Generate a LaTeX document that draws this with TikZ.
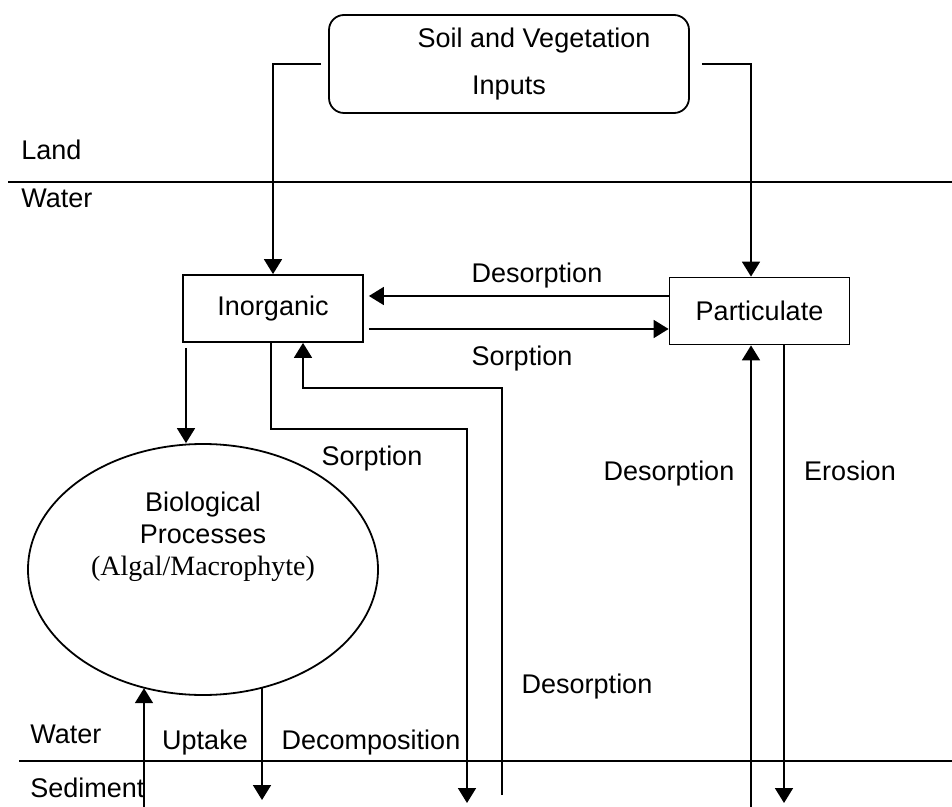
\documentclass[tikz,border=0pt]{standalone}
\usepackage{fontspec}
\setmainfont{Liberation Sans}
\newfontfamily\algalfont{Liberation Serif}
\usetikzlibrary{arrows.meta,shapes.geometric}

\begin{document}
\begin{tikzpicture}[
    x=0.5pt, y=-0.5pt,
    font=\fontsize{13.5}{16}\selectfont,
    source/.style={
        rectangle,
        rounded corners=7.5pt,
        draw,
        line width=0.9pt,
        minimum width=180pt,
        minimum height=49pt,
        align=center
    },
    pool/.style={
        rectangle,
        draw,
        line width=0.9pt,
        minimum width=90pt,
        minimum height=33.5pt
    },
    process/.style={
        ellipse,
        draw,
        line width=0.9pt,
        minimum width=175pt,
        minimum height=125.5pt,
        align=center
    },
    flow/.style={
        -{Triangle[width=9pt,length=7.5pt]},
        line width=0.9pt
    },
    flowtext/.style={anchor=base, inner sep=0pt},
    zone/.style={anchor=base west, inner sep=0pt},
    layer/.style={line width=0.9pt}
]
\useasboundingbox (0,0) rectangle (952,807);

% Boundaries
\draw[layer] (8,182) -- (952,182);
\draw[layer] (19,761) -- (952,761);

% Zone names
\node[zone] (land) at (21,160) {Land};
\node[zone] (waterup) at (21,208) {Water};
\node[zone] (waterlow) at (30,743) {Water};
\node[zone] (sediment) at (30,797) {Sediment};

% Pools
\node[source] (soil) at (509,64) {\hspace*{25pt}Soil and Vegetation\\[7.5pt]Inputs};
\node[pool] (inorg) at (273,308.5) {Inorganic};
\node[pool] (partic) at (759.5,311) {Particulate};
\node[process] (bio) at (203,569.5) {Biological\\Processes\\{\algalfont\fontsize{14}{16}\selectfont (Algal/Macrophyte)}\\[15pt]\strut};

% Inputs from land
\draw[flow] ([xshift=-3.5pt]soil.west) -| (inorg.north);
\draw[flow] ([xshift=6pt]soil.east) -| ([xshift=-4.25pt]partic.north);

% Exchange between pools
\draw[flow] ([yshift=7.5pt]partic.west) -- ([xshift=2.5pt,yshift=6.25pt]inorg.east);
\draw[flow] ([xshift=2.5pt,yshift=-10.25pt]inorg.east) -- ([yshift=-9pt]partic.west);
\node[flowtext] (desorp1) at (537,283) {Desorption};
\node[flowtext] (sorp1) at (522,365) {Sorption};

% Inorganic and biological
\draw[flow] ([xshift=-43.5pt,yshift=-2.5pt]inorg.south) -- ([xshift=-8.5pt]bio.north);

% Exchange with sediment
\coordinate (sorpbed) at (467,803);
\coordinate (desorpbed) at (502,795);
\coordinate (desorpbed2) at (751,807);
\coordinate (erosbed) at (784,803);
\coordinate (uptakebed) at (144,807);
\coordinate (decompbed) at (262,800);

\draw[flow] ([xshift=-1pt]inorg.south) -- ++(0,86) -| (sorpbed);
\draw[flow] (desorpbed) |- ([xshift=15pt,yshift=-22.5pt]inorg.south) -- ([xshift=15pt]inorg.south);
\draw[flow] (desorpbed2) -- (desorpbed2 |- partic.south);
\draw[flow] (erosbed |- partic.south) -- (erosbed);
\draw[flow] (uptakebed) -- (uptakebed |- bio.243);
\draw[flow] (decompbed |- bio.297) -- (decompbed);

\node[flowtext] (sorp2) at (372,465) {Sorption};
\node[flowtext] (desorp2) at (669,480) {Desorption};
\node[flowtext] (erosion) at (850,480) {Erosion};
\node[flowtext] (desorp3) at (587,693) {Desorption};
\node[flowtext] (uptake) at (205,749) {Uptake};
\node[flowtext] (decomp) at (371,749) {Decomposition};

\end{tikzpicture}
\end{document}
